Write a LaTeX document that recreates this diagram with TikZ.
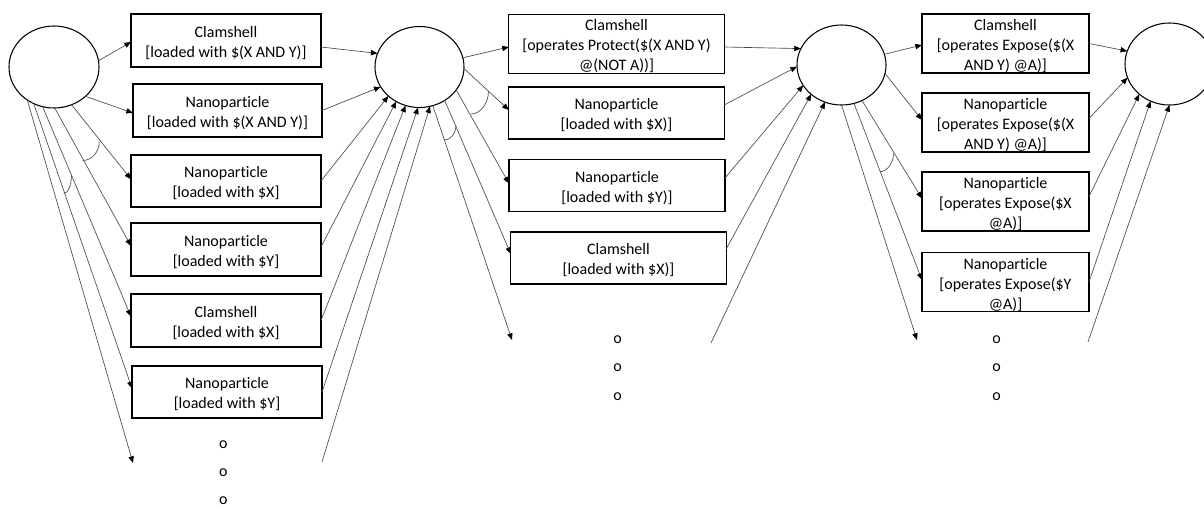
\documentclass[tikz,border=0pt]{standalone}
\usepackage{fontspec}
\setmainfont{Carlito}[Ligatures={NoCommon}]
\usetikzlibrary{shapes.geometric,arrows.meta,calc}
\begin{document}
\begin{tikzpicture}[x=0.75pt,y=-0.75pt,
  state/.style={ellipse,draw=black,line width=0.8pt,inner sep=0pt,outer sep=0pt},
  item/.style={draw=black,line width=0.9pt,inner sep=0pt,outer sep=0pt},
  lbox/.style={item,minimum width=142.5pt,minimum height=39.75pt},
  mbox/.style={item,minimum width=161.5pt,minimum height=39.5pt},
  rbox/.style={item,minimum width=125.25pt,minimum height=44.25pt},
  caption/.style={align=center,inner sep=0pt,font=\fontsize{12}{15}\selectfont},
  link/.style={draw=black!70,line width=0.5pt,-{Triangle[length=5pt,width=4pt,black]}},
  anglearc/.style={draw=black!70,line width=0.5pt},
  more/.style={font=\fontsize{12}{15}\selectfont,inner sep=0pt}
]
\useasboundingbox (0,0) rectangle (1204,508);

% states
\node[state,minimum width=67.5pt,minimum height=61.5pt] (c1) at (54,67) {};
\node[state,minimum width=66.75pt,minimum height=60.75pt] (c2) at (419.5,67) {};
\node[state,minimum width=66.75pt,minimum height=60pt] (c3) at (841.5,65) {};
\node[state,minimum width=66.75pt,minimum height=61.5pt] (c4) at (1169.5,64) {};

% first stage
\node[lbox] (b1) at (226,40.5) {};
\node[lbox,minimum width=141.75pt] (b2) at (227.5,110.5) {};
\node[lbox,minimum height=39pt] (b3) at (226,181) {};
\node[lbox] (b4) at (226,249.5) {};
\node[lbox] (b5) at (226,320.5) {};
\node[lbox,minimum height=39pt] (b6) at (227,392) {};
\node[caption] (b1t) at ($(b1.center)+(0,2.5)$) {Clamshell\\{[}loaded with \$(X AND Y){]}};
\node[caption] (b2t) at ($(b2.center)+(0,2.5)$) {Nanoparticle\\{[}loaded with \$(X AND Y){]}};
\node[caption] (b3t) at ($(b3.center)+(0,2.5)$) {Nanoparticle\\{[}loaded with \$X{]}};
\node[caption] (b4t) at ($(b4.center)+(0,2.5)$) {Nanoparticle\\{[}loaded with \$Y{]}};
\node[caption] (b5t) at ($(b5.center)+(0,2.5)$) {Clamshell\\{[}loaded with \$X{]}};
\node[caption] (b6t) at ($(b6.center)+(0,2.5)$) {Nanoparticle\\{[}loaded with \$Y{]}};
\node[more] (d1a) at (223.3,445) {o};
\node[more] (d1b) at (223.3,472.5) {o};
\node[more] (d1c) at (223.3,501) {o};

% second stage
\node[mbox,minimum height=43.9pt] (m1) at (616.5,44) {};
\node[mbox,minimum height=39pt] (m2) at (616.5,113) {};
\node[mbox,minimum width=162pt] (m3) at (617,185.5) {};
\node[mbox,minimum height=39pt] (m4) at (618.5,258) {};
\node[caption] (m1t) at ($(m1.center)+(0,2.5)$) {Clamshell\\{[}operates Protect(\$(X AND Y)\\@(NOT A)){]}};
\node[caption] (m2t) at ($(m2.center)+(0,2.5)$) {Nanoparticle\\{[}loaded with \$X){]}};
\node[caption] (m3t) at ($(m3.center)+(0,2.5)$) {Nanoparticle\\{[}loaded with \$Y){]}};
\node[caption] (m4t) at ($(m4.center)+(0,2.5)$) {Clamshell\\{[}loaded with \$X){]}};
\node[more] (d2a) at (617.7,340) {o};
\node[more] (d2b) at (617.7,368) {o};
\node[more] (d2c) at (617.7,396.7) {o};

% third stage
\node[rbox] (r1) at (1005.5,43.5) {};
\node[rbox] (r2) at (1005.5,122.5) {};
\node[rbox] (r3) at (1005.5,201.5) {};
\node[rbox] (r4) at (1005.5,282) {};
\node[caption] (r1t) at ($(r1.center)+(0,2.8)$) {Clamshell\\{[}operates Expose(\$(X\\AND Y) @A){]}};
\node[caption] (r2t) at ($(r2.center)+(0,2.8)$) {Nanoparticle\\{[}operates Expose(\$(X\\AND Y) @A){]}};
\node[caption] (r3t) at ($(r3.center)+(0,2.8)$) {Nanoparticle\\{[}operates Expose(\$X\\@A){]}};
\node[caption] (r4t) at ($(r4.center)+(0,2.8)$) {Nanoparticle\\{[}operates Expose(\$Y\\@A){]}};
\node[more] (d3a) at (996.7,340) {o};
\node[more] (d3b) at (996.7,368) {o};
\node[more] (d3c) at (996.7,396.7) {o};

% open ends
\coordinate (f1) at (133,463);
\coordinate (g1) at (322,462);
\coordinate (f2) at (512,340);
\coordinate (g2) at (711,343);
\coordinate (f3) at (917,340);
\coordinate (g3) at (1088,342);

% out of the first state
\draw[link] (c1.8) -- ($(b1.west)+(0,1.5)$);
\draw[link] (c1.-43) -- ($(b2.west)+(0,2.5)$);
\draw[link] (c1.-65) -- ($(b3.west)+(0,-1.7)$);
\draw[link] (c1.-89) -- ($(b4.west)+(0,-3.5)$);
\draw[link] (c1.-106) -- ($(b5.west)+(0,-4)$);
\draw[link] (c1.-119) -- ($(b6.west)+(0,-3.7)$);
\draw[link] (c1.-129) -- (f1);
\draw[anglearc] (99.3,141.7) .. controls (99.3,151.8) and (91.8,160.5) .. (82.7,160.5);
\draw[anglearc] (71.5,175) .. controls (71.5,185) and (68,193.5) .. (63.9,193.5);

% into the second state
\draw[link] ($(b1.east)+(0,6.5)$) -- (c2.162);
\draw[link] (b2.east) -- (c2.207);
\draw[link] (b3.east) -- (c2.223);
\draw[link] ($(b4.east)+(0,-2.5)$) -- (c2.236);
\draw[link] (b5.east) -- (c2.250);
\draw[link] (b6.east) -- (c2.268);
\draw[link] (g1) -- (c2.285);

% out of the second state
\draw[link] (c2.12) -- ($(m1.west)+(0,3)$);
\draw[link] (c2.-2) -- ($(m2.west)+(0,-3)$);
\draw[link] (c2.-32) -- ($(m3.west)+(0,-2)$);
\draw[link] (c2.-53) -- ($(m4.west)+(0,-4)$);
\draw[link] (c2.-71) -- (f2);
\draw[anglearc] (488.5,91) .. controls (488.5,104) and (480,114) .. (471,114);
\draw[anglearc] (456,125) .. controls (456,133) and (451,140) .. (444.5,140);

% into the third state
\draw[link] ($(m1.east)+(0,3)$) -- (c3.158);
\draw[link] ($(m2.east)+(0,-8)$) -- (c3.182);
\draw[link] ($(m3.east)+(0,-7.5)$) -- (c3.208);
\draw[link] ($(m4.east)+(0,-9)$) -- (c3.224);
\draw[link] (g2) -- (c3.246);

% out of the third state
\draw[link] (c3.14) -- ($(r1.west)+(0,1.5)$);
\draw[link] (c3.-11) -- ($(r2.west)+(0,-2.5)$);
\draw[link] (c3.-60) -- ($(r3.west)+(0,-3)$);
\draw[link] (c3.-72) -- ($(r4.west)+(0,-2)$);
\draw[link] (c3.-90) -- (f3);
\draw[anglearc] (893.5,153.5) .. controls (893.5,163) and (887,171.7) .. (880,171.7);

% into the last state
\draw[link] (r1.east) -- (c4.163);
\draw[link] ($(r2.east)+(0,-4)$) -- (c4.198);
\draw[link] ($(r3.east)+(0,-5)$) -- (c4.225);
\draw[link] (r4.east) -- (c4.243);
\draw[link] (g3) -- (c4.270);
\end{tikzpicture}
\end{document}
